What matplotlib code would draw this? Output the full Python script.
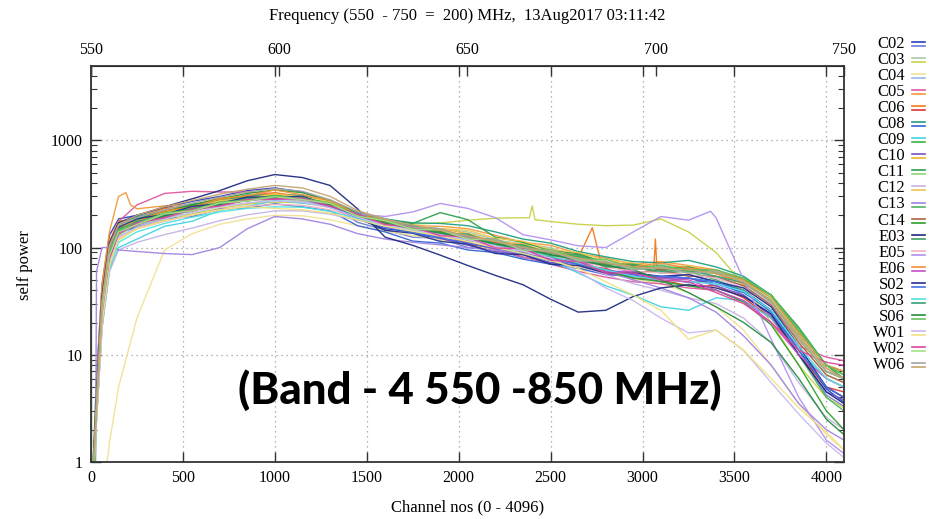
import matplotlib
matplotlib.use("Agg")
import matplotlib.pyplot as plt
from matplotlib.lines import Line2D
from matplotlib.ticker import LogLocator, NullFormatter, FixedLocator, FixedFormatter

# ---------------- data ----------------
channels = [0, 30, 60, 100, 150, 250, 400, 550, 700, 850, 1000, 1150, 1300, 1450, 1600, 1750,
            1900, 2050, 2200, 2350, 2500, 2650, 2800, 2950, 3100, 3250, 3400, 3550, 3700, 3850, 4000, 4096]

antennas = ["C02", "C03", "C04", "C05", "C06", "C08", "C09", "C10", "C11", "C12", "C13",
            "C14", "E03", "E05", "E06", "S02", "S03", "S06", "W01", "W02", "W06"]

C02 = [[0.3, 6, 45, 130, 185, 200, 235, 270, 300, 340, 360, 330, 270, 185, 150, 140, 118, 112, 92, 90, 72, 72, 60, 58, 52, 56, 48, 40, 26, 11, 4.8, 3.6],
       [0.3, 4, 30, 95, 150, 165, 215, 228, 278, 290, 318, 292, 248, 172, 146, 125, 122, 100, 96, 80, 78, 64, 62, 50, 53, 47, 50, 36, 24, 10, 4.2, 3.3]]
C03 = [[0.3, 3, 20, 70, 128, 150, 195, 205, 248, 255, 285, 270, 250, 198, 178, 158, 150, 140, 118, 108, 100, 82, 76, 66, 70, 64, 60, 46, 32, 13, 6.5, 5.5],
       [0.3, 2.5, 18, 62, 118, 150, 180, 205, 232, 255, 265, 262, 236, 196, 172, 165, 170, 180, 188, 190, 175, 165, 160, 162, 185, 140, 90, 45, 20, 8, 4, 3.2]]
C04 = [[0.1, 0.15, 0.4, 1.5, 5, 22, 95, 135, 165, 185, 200, 198, 182, 160, 142, 130, 118, 106, 95, 85, 75, 66, 58, 51, 46, 38, 28, 17, 8, 3.5, 1.8, 1.3],
       [0.3, 3, 22, 75, 135, 158, 202, 218, 262, 272, 302, 282, 260, 200, 180, 150, 145, 128, 104, 100, 84, 80, 66, 66, 58, 62, 52, 44, 30, 14, 7, 6]]
C05 = [[0.3, 4, 35, 110, 175, 250, 320, 335, 330, 330, 318, 300, 262, 212, 172, 150, 130, 112, 96, 82, 70, 60, 53, 48, 46, 42, 40, 32, 22, 12, 9.5, 8.8],
       [0.3, 5, 45, 140, 300, 230, 245, 250, 282, 295, 318, 290, 262, 205, 175, 160, 158, 150, 130, 112, 105, 88, 80, 70, 74, 68, 62, 48, 31, 14, 7, 6]]
C06 = [[0.3, 4, 38, 115, 175, 190, 232, 245, 290, 300, 326, 298, 268, 200, 180, 150, 142, 122, 115, 96, 92, 80, 72, 67, 66, 62, 57, 46, 32, 14, 7, 6],
       [0.3, 3, 28, 90, 150, 180, 222, 236, 274, 286, 306, 286, 256, 190, 170, 142, 138, 108, 100, 86, 82, 68, 64, 52, 50, 44, 44, 34, 22, 10, 5, 4.5]]
C08 = [[0.3, 4, 32, 105, 165, 195, 215, 255, 270, 310, 305, 310, 258, 215, 185, 170, 168, 160, 140, 120, 110, 92, 82, 74, 72, 76, 66, 54, 36, 16, 8, 7],
       [0.3, 3, 25, 85, 138, 155, 186, 195, 228, 235, 256, 240, 220, 160, 140, 115, 110, 95, 90, 78, 70, 64, 56, 54, 52, 52, 46, 38, 26, 11, 5, 4]]
C09 = [[0.3, 2.5, 18, 60, 100, 120, 158, 176, 222, 242, 276, 260, 245, 195, 175, 145, 138, 116, 106, 86, 76, 58, 44, 36, 28, 26, 34, 32, 22, 11, 6, 5],
       [0.3, 4, 30, 95, 150, 170, 212, 226, 268, 282, 308, 290, 270, 206, 186, 155, 150, 120, 118, 96, 95, 78, 76, 62, 68, 60, 60, 50, 36, 17, 8, 6.5]]
C10 = [[0.3, 3, 26, 85, 140, 176, 194, 232, 250, 288, 294, 296, 244, 196, 155, 146, 122, 105, 92, 86, 72, 70, 56, 56, 48, 52, 44, 36, 23, 10, 4.5, 3.8],
       [0.3, 3, 24, 80, 140, 166, 212, 228, 270, 284, 312, 293, 270, 202, 182, 150, 150, 135, 114, 108, 90, 86, 72, 70, 62, 66, 58, 48, 32, 15, 7.5, 6]]
C11 = [[0.3, 3.5, 30, 100, 160, 186, 216, 242, 272, 294, 304, 296, 258, 206, 178, 168, 212, 182, 125, 112, 94, 88, 72, 68, 62, 64, 58, 50, 36, 18, 8, 6],
       [0.3, 3, 22, 75, 130, 166, 184, 224, 242, 278, 282, 288, 244, 206, 166, 160, 134, 118, 112, 94, 92, 76, 74, 62, 66, 58, 58, 49, 34, 16, 8, 7]]
C12 = [[0.3, 2.5, 18, 60, 95, 112, 132, 152, 178, 202, 220, 220, 205, 180, 160, 145, 132, 118, 104, 92, 80, 68, 56, 46, 40, 34, 30, 22, 13, 5.5, 2.6, 2],
       [0.3, 3, 25, 85, 145, 172, 216, 232, 274, 288, 318, 296, 268, 200, 181, 150, 150, 145, 122, 115, 96, 90, 76, 72, 64, 68, 60, 47, 31, 14, 7, 6]]
C13 = [[0.3, 60, 100, 100, 95, 92, 88, 86, 100, 150, 195, 185, 165, 135, 120, 112, 106, 100, 94, 88, 80, 70, 60, 50, 42, 34, 25, 15, 8, 3.5, 2, 1.6],
       [0.3, 3, 26, 88, 145, 182, 198, 238, 250, 290, 288, 298, 248, 210, 165, 160, 134, 130, 106, 104, 84, 84, 68, 66, 58, 60, 50, 40, 25, 10, 4, 3]]
C14 = [[0.3, 3, 24, 82, 138, 162, 204, 218, 258, 272, 298, 278, 256, 192, 174, 144, 142, 116, 112, 90, 90, 72, 70, 58, 62, 54, 54, 44, 29, 13, 6.5, 5.5],
       [0.3, 3.5, 28, 95, 150, 182, 218, 250, 285, 320, 345, 325, 275, 212, 178, 156, 140, 124, 108, 94, 82, 70, 60, 52, 48, 44, 40, 31, 19, 8, 3, 2]]
E03 = [[0.3, 4, 35, 110, 170, 200, 240, 285, 340, 420, 480, 450, 380, 230, 125, 105, 85, 68, 55, 45, 33, 25, 26, 35, 42, 45, 42, 35, 24, 10, 4.5, 3.5],
       [0.3, 3, 27, 90, 148, 182, 200, 238, 254, 292, 292, 298, 250, 210, 168, 162, 136, 134, 108, 106, 88, 86, 70, 70, 64, 66, 58, 52, 36, 17, 8, 6.5]]
E05 = [[0.3, 2.5, 20, 70, 122, 150, 175, 200, 225, 245, 252, 248, 225, 190, 164, 148, 134, 120, 106, 94, 84, 74, 66, 60, 58, 56, 52, 42, 28, 12, 6, 5],
       [0.3, 3, 24, 80, 135, 165, 195, 222, 250, 275, 290, 280, 240, 205, 195, 215, 258, 232, 190, 132, 118, 104, 100, 140, 195, 180, 190, 50, 14, 4, 1.6, 1.2]]
E06 = [[0.3, 3.5, 30, 98, 155, 176, 220, 238, 285, 305, 345, 310, 276, 202, 182, 152, 148, 122, 120, 96, 96, 78, 76, 66, 72, 64, 62, 50, 34, 16, 8, 7],
       [0.3, 3, 24, 80, 136, 172, 190, 228, 244, 280, 282, 286, 238, 200, 158, 152, 126, 124, 98, 96, 78, 76, 60, 60, 52, 50, 40, 32, 20, 10, 6, 5]]
S02 = [[0.3, 3.5, 30, 100, 155, 186, 204, 242, 258, 296, 296, 300, 244, 190, 145, 136, 114, 108, 88, 86, 70, 68, 58, 58, 54, 56, 48, 42, 28, 12, 5, 4],
       [0.3, 3, 26, 88, 142, 170, 200, 226, 254, 280, 294, 286, 246, 188, 156, 138, 124, 110, 98, 88, 78, 70, 62, 56, 54, 52, 48, 39, 25, 11, 5, 4]]
S03 = [[0.3, 2.5, 20, 65, 112, 140, 168, 192, 215, 232, 240, 238, 218, 186, 160, 144, 131, 118, 105, 93, 83, 72, 62, 54, 50, 48, 46, 39, 26, 12, 6, 5],
       [0.3, 3, 26, 86, 140, 176, 194, 232, 248, 286, 288, 294, 246, 206, 164, 158, 132, 130, 104, 102, 84, 82, 66, 66, 60, 62, 54, 47, 32, 15, 7, 6]]
S06 = [[0.3, 3, 26, 86, 140, 168, 198, 224, 252, 278, 292, 286, 250, 198, 168, 150, 136, 122, 108, 96, 86, 76, 68, 62, 50, 38, 28, 20, 13, 6, 2.5, 1.8],
       [1e5, 3.5, 28, 92, 146, 168, 210, 224, 264, 278, 304, 286, 262, 198, 180, 150, 148, 122, 120, 96, 96, 78, 78, 64, 68, 62, 62, 52, 36, 17, 8, 6.5]]
W01 = [[0.3, 2.5, 20, 70, 125, 155, 185, 212, 240, 262, 272, 266, 236, 192, 162, 146, 132, 118, 104, 92, 80, 60, 42, 32, 22, 16, 17, 11, 5.5, 2.8, 1.5, 1.1],
       [0.3, 2.5, 20, 68, 120, 150, 178, 202, 225, 240, 232, 225, 210, 182, 158, 142, 128, 114, 100, 88, 76, 64, 48, 36, 26, 14, 17, 11, 6, 3.2, 1.9, 1.3]]
W02 = [[0.3, 3, 24, 80, 135, 170, 190, 228, 244, 281, 284, 290, 244, 206, 164, 156, 129, 126, 99, 98, 76, 74, 58, 58, 50, 48, 38, 30, 20, 11, 8.5, 8],
       [0.3, 3, 25, 84, 140, 164, 206, 220, 260, 272, 298, 280, 258, 196, 178, 148, 146, 120, 118, 94, 94, 76, 76, 62, 66, 58, 60, 48, 33, 15, 7, 6]]
W06 = [[0.3, 3.5, 30, 100, 160, 190, 225, 260, 295, 330, 355, 335, 280, 215, 185, 155, 150, 124, 118, 96, 93, 75, 74, 62, 66, 58, 60, 47, 31, 14, 7, 6],
       [0.3, 3.5, 32, 105, 165, 200, 240, 275, 315, 350, 380, 360, 300, 222, 184, 162, 145, 129, 114, 101, 90, 80, 72, 66, 64, 62, 58, 48, 32, 15, 7.5, 6]]

# extra narrow features (channel, value) per antenna/polarisation
spike_C03b = [(2385, 190), (2400, 245), (2415, 182)]
spike_C05b = [(190, 325), (215, 250)]
spike_C06a = [(2727, 153), (2775, 72), (3062, 66), (3070, 120), (3078, 66)]
spike_C13a = [(24, 0.6)]
spike_E05b = [(3370, 218)]
spike_S06b = [(4, 0.3), (20, 0.5)]

series = [C02, C03, C04, C05, C06, C08, C09, C10, C11, C12, C13, C14,
          E03, E05, E06, S02, S03, S06, W01, W02, W06]
extras = {("C03", 1): spike_C03b, ("C05", 1): spike_C05b, ("C06", 0): spike_C06a,
          ("C13", 0): spike_C13a, ("E05", 1): spike_E05b, ("S06", 1): spike_S06b}

pair_colors = [("#2a3fbf", "#6b7fd6"), ("#a8c8a8", "#c8d24a"), ("#f2e294", "#9ab8e6"),
               ("#e0589e", "#f29a3a"), ("#f07a1a", "#e03434"), ("#1fa07e", "#3563d4"),
               ("#44d2e2", "#43b143"), ("#7552c4", "#f2b232"), ("#2e9e4e", "#94d274"),
               ("#c4b4e4", "#f2c454"), ("#a284e2", "#52b262"), ("#b0623e", "#2f9f2f"),
               ("#1f2a80", "#3f9f5f"), ("#f2b4c4", "#b492f2"), ("#f29232", "#c452c4"),
               ("#22328f", "#4272e2"), ("#52e2e2", "#32a272"), ("#228f3f", "#62c262"),
               ("#cabaf2", "#f2e282"), ("#e244a4", "#a4e284"), ("#a4a4a4", "#c4a472")]

title = "Frequency (550  - 750  =  200) MHz,  13Aug2017 03:11:42"
band_text = "(Band - 4 550 -850 MHz)"

# ---------------- figure ----------------
W, H = 934, 519
fig = plt.figure(figsize=(W / 100, H / 100), dpi=100)
L, R, T, B = 91, 844, 66, 462
ax = fig.add_axes([L / W, 1 - B / H, (R - L) / W, (B - T) / H])

serif = "Liberation Serif"

for name, pol_pair, cols in zip(antennas, series, pair_colors):
    for p in range(2):
        pts = list(zip(channels, pol_pair[p])) + extras.get((name, p), [])
        pts.sort(key=lambda t: t[0])
        xs = [t[0] for t in pts]
        ys = [t[1] for t in pts]
        ax.plot(xs, ys, color=cols[p], lw=1.0, alpha=0.95, solid_joinstyle="round")

ax.set_yscale("log")
ax.set_xlim(0, 4096)
ax.set_ylim(1, 4940)

ax.xaxis.set_major_locator(FixedLocator([0, 500, 1000, 1500, 2000, 2500, 3000, 3500, 4000]))
ax.yaxis.set_major_locator(FixedLocator([1, 10, 100, 1000]))
ax.yaxis.set_major_formatter(FixedFormatter(["1", "10", "100", "1000"]))
ax.yaxis.set_minor_locator(LogLocator(base=10, subs=range(2, 10)))
ax.yaxis.set_minor_formatter(NullFormatter())

ax.tick_params(which="both", direction="in", top=True, right=True, color="#333333")
ax.tick_params(which="major", length=7, width=1.0, labelsize=11.5, pad=6)
ax.tick_params(which="minor", length=4, width=0.8)
for lab in ax.get_xticklabels() + ax.get_yticklabels():
    lab.set_fontfamily(serif)

ax.grid(True, which="major", linestyle=(0, (1, 3)), color="#9a9a9a", lw=0.9)

for sp in ax.spines.values():
    sp.set_color("#333333")
    sp.set_linewidth(1.3)

secax = ax.secondary_xaxis("top", functions=(lambda c: 550 + c * 200 / 4096,
                                             lambda f: (f - 550) * 4096 / 200))
secax.xaxis.set_major_locator(FixedLocator([550, 600, 650, 700, 750]))
secax.tick_params(direction="in", length=7, width=1.0, labelsize=11.5, pad=6, color="#333333")
for lab in secax.get_xticklabels():
    lab.set_fontfamily(serif)

fig.text((L + R) / 2 / W, 1 - 16 / H, title, ha="center", va="center",
         fontsize=12, family=serif)
fig.text((L + R) / 2 / W, 1 - 507 / H, "Channel nos (0 - 4096)", ha="center", va="center",
         fontsize=12, family=serif)
fig.text(25 / W, 1 - 265 / H, "self power", ha="center", va="center", rotation=90,
         fontsize=12, family=serif)

fig.text(480 / W, 1 - 390 / H, band_text, ha="center", va="center",
         fontsize=31.5, fontweight="black", family="Lato")

# legend (two samples per antenna)
for i, (name, cols) in enumerate(zip(antennas, pair_colors)):
    yc = 44 + i * 16.05
    fig.text(905 / W, 1 - yc / H, name, ha="right", va="center", fontsize=12, family=serif)
    for k, dy in enumerate((-2.0, 2.0)):
        fig.add_artist(Line2D([912 / W, 925 / W], [1 - (yc + dy) / H] * 2,
                              color=cols[k], lw=1.2, transform=fig.transFigure))

fig.savefig("out.png", dpi=100)
